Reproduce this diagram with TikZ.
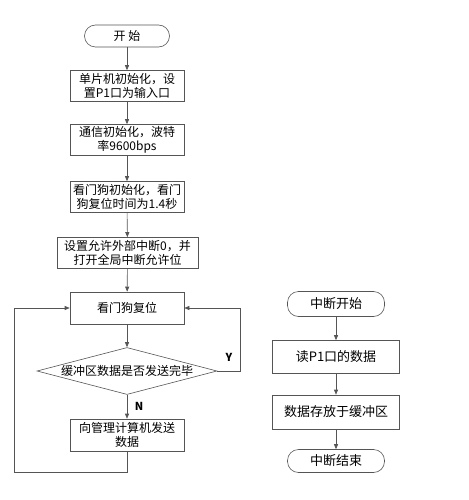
\documentclass[tikz,border=0pt]{standalone}
\usepackage{fontspec}
\setmainfont{Noto Sans CJK SC}
\usetikzlibrary{arrows.meta,positioning,shapes.geometric}
\definecolor{lineGray}{RGB}{85,85,85}

\tikzset{
  flow/.style={draw=lineGray, line width=0.6pt},
  term/.style={flow, rounded corners=11pt, minimum width=85pt, minimum height=22pt, inner sep=0pt, font=\fontsize{12}{14}\selectfont},
  proc/.style={flow, minimum width=114pt, minimum height=31pt, inner sep=0pt, align=center, font=\fontsize{12}{14.5}\selectfont},
  decide/.style={flow, diamond, aspect=3.8, inner sep=0pt, minimum width=180pt, minimum height=47pt, font=\fontsize{12}{14}\selectfont},
  arr/.style={lineGray, line width=0.6pt, -{Triangle[length=5pt,width=4pt]}},
  yn/.style={font=\fontsize{11}{13}\selectfont\bfseries}
}

\begin{document}
\begin{tikzpicture}[x=1pt, y=1pt]
    \useasboundingbox (0,0) rectangle (468,-500);
    % Main program
    \node[term] (start) at (127,-36) {开\ 始};
    \node[proc] (init) at (127,-86) {单片机初始化，设\\置P1口为输入口};
    \node[proc] (comm) at (127,-140) {通信初始化，波特\\率9600bps};
    \node[proc] (wdinit) at (127,-197) {看门狗初始化，看门\\狗复位时间为1.4秒};
    \node[proc, minimum width=141pt] (intcfg) at (127.5,-253) {设置允许外部中断0，并\\打开全局中断允许位};
    \node[proc, minimum height=32pt] (wdrst) at (127,-308) {看门狗复位};
    \node[decide] (check) at (127,-371) {缓冲区数据是否发送完毕};
    \node[proc, minimum height=32pt] (send) at (127,-435) {向管理计算机发送\\数据};
    \draw[arr] (start) -- (init);
    \draw[arr] (init) -- (comm);
    \draw[arr] (comm) -- (wdinit);
    \draw[arr] (wdinit) -- (intcfg);
    \draw[arr] (intcfg) -- (wdrst);
    \draw[arr] (wdrst) -- (check);
    \draw[arr] (check) -- (send);
    \node[yn] (nLbl) at (139,-406) {N};
    % Y branch back to the reset
    \coordinate (yUp) at (240,-308);
    \draw[arr] (check.east) -| (yUp) -- (wdrst.east);
    \node[yn] (yLbl) at (229,-357) {Y};
    % loop after sending
    \coordinate (loopA) at (127,-472);
    \coordinate (loopB) at (14,-472);
    \coordinate (loopC) at (14,-308);
    \draw[arr] (send.south) -- (loopA) -- (loopB) -- (loopC) -- (wdrst.west);
    % Interrupt routine
    \node[term, minimum width=97pt, minimum height=25pt, font=\fontsize{13}{15}\selectfont] (isrStart) at (336,-304) {中断开始};
    \node[proc, minimum width=127pt, minimum height=33pt, font=\fontsize{13}{15}\selectfont] (readP1) at (336,-357) {读P1口的数据};
    \node[proc, minimum width=127pt, minimum height=34pt, font=\fontsize{13}{15}\selectfont] (store) at (336,-412) {数据存放于缓冲区};
    \node[term, minimum width=97pt, minimum height=23pt, font=\fontsize{13}{15}\selectfont] (isrEnd) at (336,-461) {中断结束};
    \draw[arr] (isrStart) -- (readP1);
    \draw[arr] (readP1) -- (store);
    \draw[arr] (store) -- (isrEnd);
\end{tikzpicture}
\end{document}
